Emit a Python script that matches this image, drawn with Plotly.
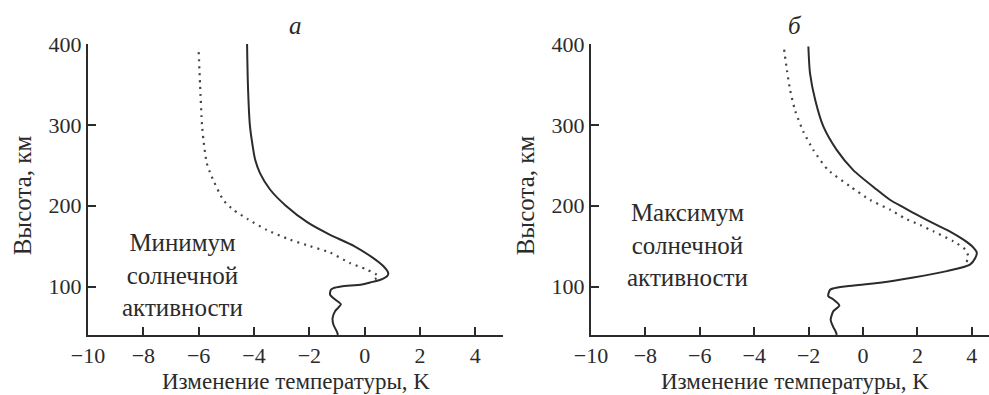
import plotly.graph_objects as go

# ---- data (altitude km, temperature change K) ----
min_solid_alt = [400, 350, 300, 281, 257, 240, 220, 200, 179, 164, 150, 133, 125, 117, 113,
                 108, 105, 102.5, 100, 98, 96, 90, 84, 78, 74, 69.5, 61, 53, 43, 40]
min_solid_dT = [-4.25, -4.22, -4.15, -4.08, -3.96, -3.78, -3.42, -2.85, -2.05, -1.25, -0.38, 0.4,
                0.68, 0.85, 0.82, 0.55, 0.2, -0.1, -0.85, -1.13, -1.22, -1.25, -1.07, -0.86, -0.95,
                -1.07, -1.16, -1.13, -0.99, -0.97]

min_dot_alt = [390, 350, 300, 282, 253, 236, 207, 195, 183, 170, 158, 150, 142, 129, 121, 113, 107]
min_dot_dT = [-6.0, -5.95, -5.88, -5.83, -5.71, -5.53, -5.11, -4.75, -4.21, -3.54, -2.7, -1.98,
              -1.25, -0.53, 0.07, 0.49, 0.3]

max_solid_alt = [397, 364, 331, 298, 269, 244, 220, 207, 199, 191, 174, 168, 158, 150, 142, 135,
                 127, 119, 111, 104.6, 100.4, 98, 96, 88, 84, 76.5, 69.5, 59, 51, 43, 40]
max_solid_dT = [-2.01, -1.95, -1.76, -1.46, -0.97, -0.36, 0.5, 1.0, 1.42, 1.85, 2.83, 3.2, 3.69,
                4.0, 4.18, 4.12, 3.93, 3.08, 1.85, 0.62, -0.6, -1.05, -1.21, -1.28, -1.09, -0.87,
                -1.09, -1.19, -1.11, -0.99, -0.97]

max_dot_alt = [393, 368, 343, 318, 292, 269, 244, 224, 207, 195, 185, 176, 168, 156, 146, 137, 130]
max_dot_dT = [-2.9, -2.8, -2.68, -2.5, -2.2, -1.83, -1.28, -0.48, 0.26, 1.0, 1.5, 2.1, 2.6, 3.32,
              3.75, 3.87, 3.8]

x_ticks = [-10, -8, -6, -4, -2, 0, 2, 4]
y_ticks = [100, 200, 300, 400]
panel_labels = ["а", "б"]
notes = ["Минимум<br>солнечной<br>активности", "Максимум<br>солнечной<br>активности"]
x_title = "Изменение температуры, K"
y_title = "Высота, км"

INK = "#2b2b2b"
FONT = "Liberation Serif"

fig = go.Figure()
line_solid = dict(color=INK, width=2, shape="spline", smoothing=0.7)
line_dot = dict(color="#444444", width=2.2, dash="2px,5px", shape="spline", smoothing=0.6)

fig.add_trace(go.Scatter(x=min_dot_dT, y=min_dot_alt, mode="lines", line=line_dot,
                         xaxis="x", yaxis="y", showlegend=False))
fig.add_trace(go.Scatter(x=min_solid_dT, y=min_solid_alt, mode="lines", line=line_solid,
                         xaxis="x", yaxis="y", showlegend=False))
fig.add_trace(go.Scatter(x=max_dot_dT, y=max_dot_alt, mode="lines", line=line_dot,
                         xaxis="x2", yaxis="y2", showlegend=False))
fig.add_trace(go.Scatter(x=max_solid_dT, y=max_solid_alt, mode="lines", line=line_solid,
                         xaxis="x2", yaxis="y2", showlegend=False))

W, H = 989, 395
L_AX, R_AX_END = 88, 503
L2_AX = 591

axis_common = dict(showgrid=False, zeroline=False, showline=True, linecolor=INK, linewidth=2,
                   ticks="inside", ticklen=8, tickwidth=2, tickcolor=INK, automargin=False,
                   tickfont=dict(family=FONT, size=22, color=INK))

fig.update_layout(
    width=W, height=H,
    margin=dict(l=0, r=0, t=44, b=60, autoexpand=False),
    paper_bgcolor="white", plot_bgcolor="white",
    font=dict(family=FONT, color=INK),
    xaxis=dict(axis_common, domain=[L_AX / W, R_AX_END / W], range=[-10, 5], tickvals=x_ticks,
               anchor="y"),
    yaxis=dict(axis_common, domain=[0, 1], range=[40, 400], tickvals=y_ticks, anchor="x"),
    xaxis2=dict(axis_common, domain=[L2_AX / W, 1.0], range=[-10, 4.63], tickvals=x_ticks,
                anchor="y2"),
    yaxis2=dict(axis_common, domain=[0, 1], range=[40, 400], tickvals=y_ticks, anchor="x2"),
)

ann = []
for i, (xr, yr, xp_ytitle) in enumerate([("x", "y", 22 / W), ("x2", "y2", 525 / W)]):
    ann.append(dict(text="<i>" + panel_labels[i] + "</i>", xref=xr, yref="paper", x=-2.5, y=1.065,
                    showarrow=False, font=dict(family=FONT, size=25, color=INK),
                    xanchor="center", yanchor="middle"))
    ann.append(dict(text=x_title, xref=xr, yref="paper", x=-2.5, y=-0.159, showarrow=False,
                    font=dict(family=FONT, size=23, color=INK), xanchor="center", yanchor="middle"))
    ann.append(dict(text=y_title, xref="paper", yref="paper", x=xp_ytitle, y=0.48, showarrow=False,
                    textangle=-90, font=dict(family=FONT, size=25, color=INK),
                    xanchor="center", yanchor="middle"))

ann.append(dict(text=notes[0], xref="x", yref="paper", x=-6.6, y=0.206, showarrow=False,
                font=dict(family=FONT, size=25, color=INK), align="center",
                xanchor="center", yanchor="middle"))
ann.append(dict(text=notes[1], xref="x2", yref="paper", x=-6.47, y=0.309, showarrow=False,
                font=dict(family=FONT, size=25, color=INK), align="center",
                xanchor="center", yanchor="middle"))
fig.update_layout(annotations=ann)

fig.write_html("out.html", config={"displayModeBar": False},
               post_script="document.body.style.margin='0';")
